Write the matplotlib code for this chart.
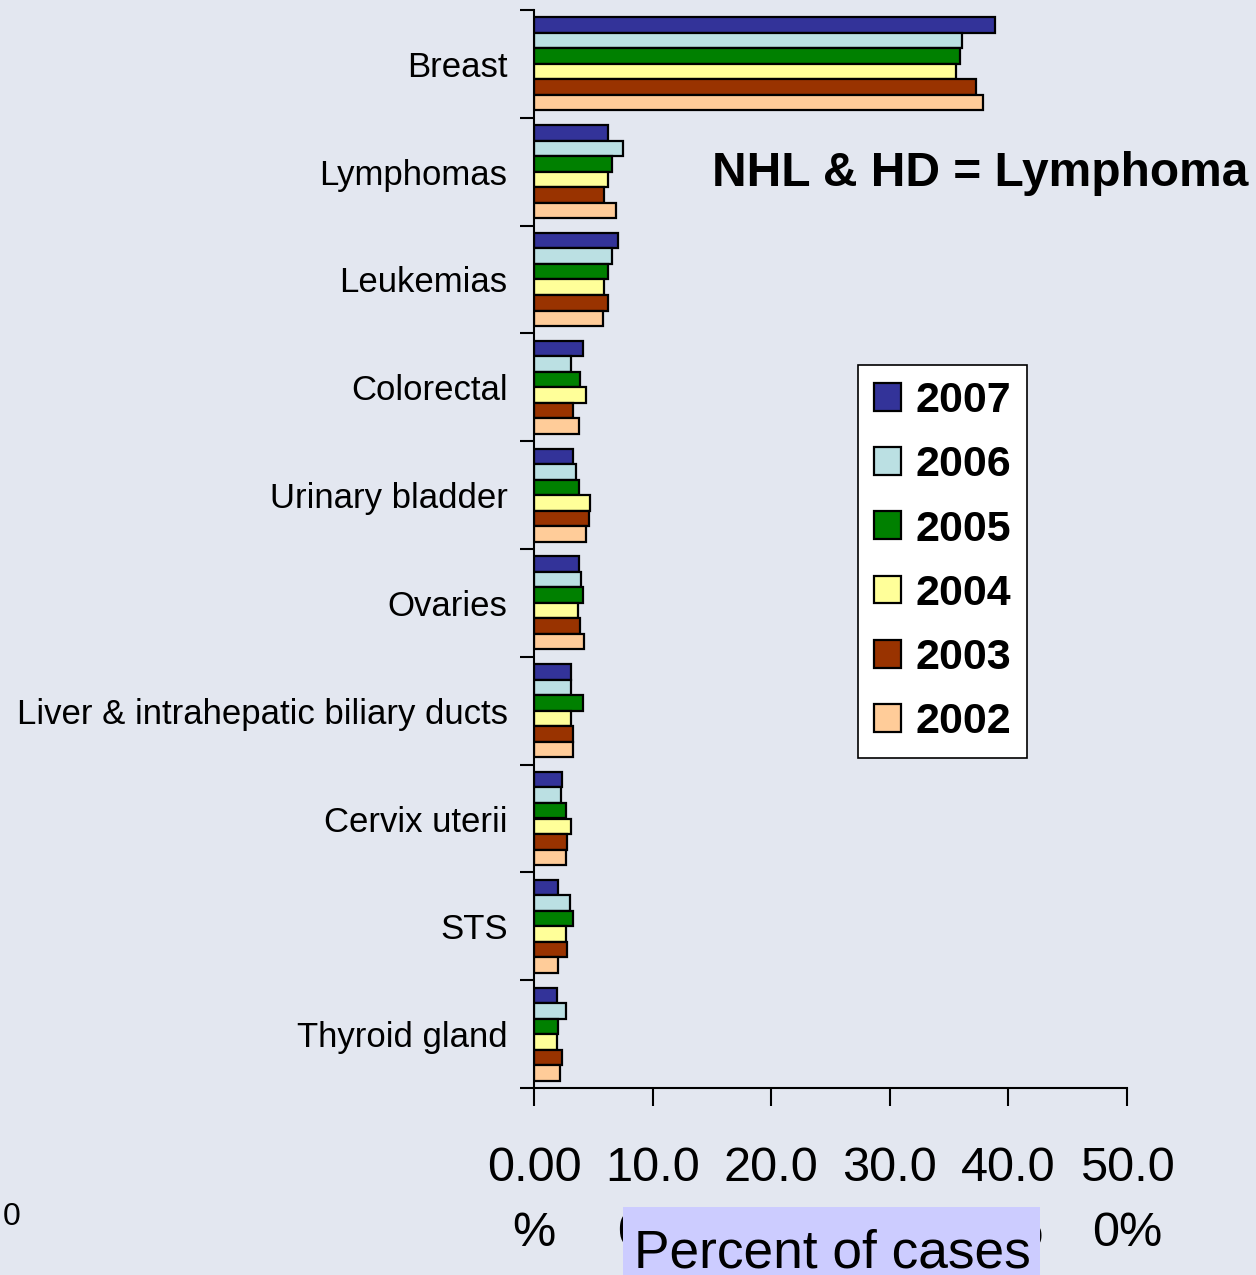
import matplotlib
matplotlib.use("Agg")
import matplotlib.pyplot as plt
import numpy as np
from matplotlib.patches import Rectangle

plt.rcParams['font.family'] = ['Liberation Sans', 'DejaVu Sans']

# data (percent of cases)
sites = ['Breast', 'Lymphomas', 'Leukemias', 'Colorectal', 'Urinary bladder',
         'Ovaries', 'Liver & intrahepatic biliary ducts', 'Cervix uterii',
         'STS', 'Thyroid gland']
years = ['2007', '2006', '2005', '2004', '2003', '2002']
y2007 = [38.9, 6.2, 7.1, 4.1, 3.3, 3.8, 3.1, 2.4, 2.0, 1.9]
y2006 = [36.1, 7.5, 6.6, 3.1, 3.5, 4.0, 3.1, 2.3, 3.0, 2.7]
y2005 = [35.9, 6.6, 6.2, 3.9, 3.8, 4.1, 4.1, 2.7, 3.3, 2.0]
y2004 = [35.6, 6.2, 5.9, 4.4, 4.7, 3.7, 3.1, 3.1, 2.7, 1.9]
y2003 = [37.3, 5.9, 6.2, 3.3, 4.6, 3.9, 3.3, 2.8, 2.8, 2.4]
y2002 = [37.9, 6.9, 5.8, 3.8, 4.4, 4.2, 3.3, 2.7, 2.0, 2.2]
series = [y2007, y2006, y2005, y2004, y2003, y2002]
colors = ['#333399', '#bbe0e3', '#008000', '#ffff99', '#993300', '#ffcc99']
xticks = [0, 10, 20, 30, 40, 50]
xticklabels = ['0.00\n%', '10.0\n0%', '20.0\n0%', '30.0\n0%', '40.0\n0%', '50.0\n0%']

bg = '#e3e7f0'
fig = plt.figure(figsize=(12.56, 12.75), dpi=100, facecolor=bg)
ax = fig.add_axes([534/1256, 1-1088/1275, (1127-534)/1256, (1088-10)/1275])
ax.set_facecolor('none')

pos = np.arange(len(sites))
h = 0.1438
for k, (vals, c, yr) in enumerate(zip(series, colors, years)):
    ax.barh(pos + (k - 2.5) * h, vals, height=h, color=c, edgecolor='black',
            linewidth=1.6, label=yr)

ax.set_ylim(len(sites) - 0.5, -0.5)
ax.set_xlim(0, 50)
ax.set_yticks(pos)
ax.set_yticklabels(sites, fontsize=25)
ax.tick_params(axis='y', length=0, pad=19)
ax.set_yticks(np.arange(len(sites) + 1) - 0.5, minor=True)
ax.tick_params(axis='y', which='minor', length=10, width=1.5)
ax.set_xticks(xticks)
ax.set_xticklabels(xticklabels, fontsize=35)
for t in ax.get_xticklabels():
    t.set_linespacing(1.55)
ax.tick_params(axis='x', length=13, width=1.5, pad=29)
for s in ['top', 'right']:
    ax.spines[s].set_visible(False)
for s in ['left', 'bottom']:
    ax.spines[s].set_linewidth(1.5)

leg = fig.legend(loc='upper left', bbox_to_anchor=(858/1256, 1-365/1275),
                 borderaxespad=0, prop={'weight': 'bold', 'size': 31},
                 handlelength=0.62, handleheight=0.62, handletextpad=0.33,
                 labelspacing=0.56, borderpad=0.38, fancybox=False,
                 framealpha=1, edgecolor='black')
leg.get_frame().set_linewidth(1.2)

fig.text(712/1256, 1-173/1275, 'NHL & HD = Lymphoma', fontsize=34.5,
         fontweight='bold', ha='left', va='center')

fig.patches.append(Rectangle((623/1256, 0), (1040-623)/1256, (1275-1207)/1275,
                             transform=fig.transFigure, facecolor='#ccccff',
                             edgecolor='none', zorder=2))
fig.text(832/1256, 1-1268/1275, 'Percent of cases', fontsize=38.3,
         ha='center', va='baseline', zorder=3)
fig.text(3/1256, 1-1217/1275, '0', fontsize=23, ha='left', va='center')

fig.savefig('out.png', dpi=100, facecolor=bg)
